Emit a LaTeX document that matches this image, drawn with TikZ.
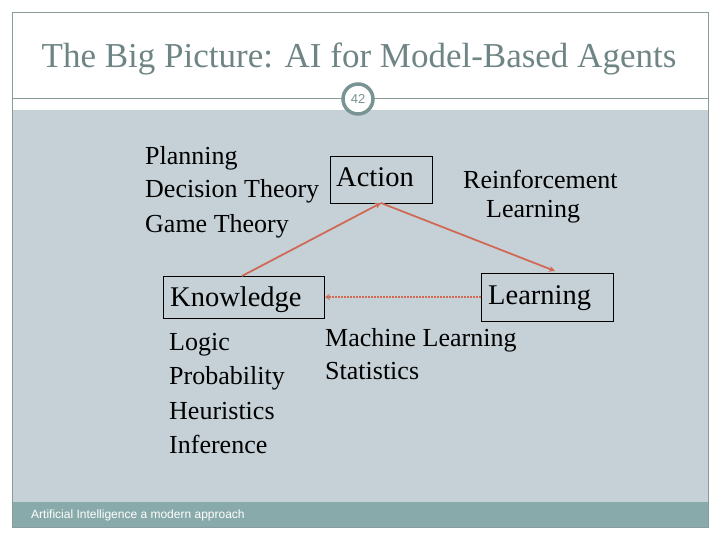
\documentclass[tikz,border=0pt]{standalone}
\usepackage{fontspec}
\setmainfont{Liberation Serif}
\setsansfont{Liberation Sans}
\usetikzlibrary{arrows.meta}
\definecolor{bgblue}{HTML}{C5D1D7}
\definecolor{footgray}{HTML}{89AAAA}
\definecolor{framegray}{HTML}{8A9B9B}
\definecolor{titlegray}{HTML}{6F8585}
\definecolor{ringgray}{HTML}{7A9494}
\definecolor{linkred}{HTML}{D06A55}
\tikzset{
  boxnode/.style={draw=black, line width=0.8pt, inner sep=0pt},
  listtext/.style={anchor=base west, inner sep=0pt, font=\fontsize{26}{30}\selectfont},
  boxtext/.style={anchor=base west, inner sep=0pt, font=\fontsize{28.5}{32}\selectfont},
  link/.style={draw=linkred, line width=1.8pt, -{Stealth[length=6pt,width=6pt]}},
  dotlink/.style={draw=linkred, line width=1.6pt, dash pattern=on 2pt off 1pt, -{Stealth[length=5pt,width=6pt]}}
}
\begin{document}
\begin{tikzpicture}[x=1pt,y=-1pt]
\useasboundingbox (0,0) rectangle (720,540);
\fill[white] (0,0) rectangle (720,540);
% content area
\fill[bgblue] (12,110) rectangle (708,502);
% footer band
\fill[footgray] (12,502) rectangle (708,527);
\node[anchor=west, inner sep=0pt, text=white, font=\sffamily\fontsize{12}{14}\selectfont] (foot) at (31,515) {Artificial Intelligence a modern approach};
% frame
\draw[framegray, line width=0.8pt] (12,12) rectangle (708,527);
\draw[framegray, line width=0.8pt] (12,98) -- (708,98);
% page number circle
\node[circle, draw=ringgray, line width=3.5pt, fill=white, minimum size=30pt, inner sep=0pt, font=\sffamily\fontsize{13}{15}\selectfont, text=ringgray] (pnum) at (358,99) {42};
% title
\node[anchor=base, inner sep=0pt, text=titlegray, font=\fontsize{35}{40}\selectfont] (title) at (359,68) {The Big Picture: AI for Model-Based Agents};
% left top list
\node[listtext] (plan) at (145,165) {Planning};
\node[listtext] (dec) at (145,198) {Decision Theory};
\node[listtext] (game) at (145,233) {Game Theory};
% boxes
\node[boxnode, minimum width=102pt, minimum height=47pt] (A) at (381,179.5) {};
\node[boxtext] (Atext) at (336,187) {Action};
\node[boxnode, minimum width=161pt, minimum height=42pt] (K) at (243.5,297) {};
\node[boxtext] (Ktext) at (170,306) {Knowledge};
\node[boxnode, minimum width=132pt, minimum height=48pt] (L) at (547,297) {};
\node[boxtext] (Ltext) at (488,304) {Learning};
% reinforcement learning
\node[listtext] (rein) at (463,189) {Reinforcement};
\node[listtext] (reinl) at (486,218) {Learning};
% lower lists
\node[listtext] (logic) at (169,350) {Logic};
\node[listtext] (prob) at (169,384) {Probability};
\node[listtext] (heur) at (169,419) {Heuristics};
\node[listtext] (inf) at (169,453) {Inference};
\node[listtext] (ml) at (325,346) {Machine Learning};
\node[listtext] (stat) at (325,379) {Statistics};
% connectors
\coordinate (Ktop) at (242,276);
\coordinate (Abot) at (381,203);
\coordinate (Ltop) at (555,271);
\coordinate (Lleft) at (481,297);
\coordinate (Kright) at (325,297);
\draw[link] (Ktop) -- (Abot);
\draw[link] (Abot) -- (Ltop);
\draw[dotlink] (Lleft) -- (Kright);
\end{tikzpicture}
\end{document}
